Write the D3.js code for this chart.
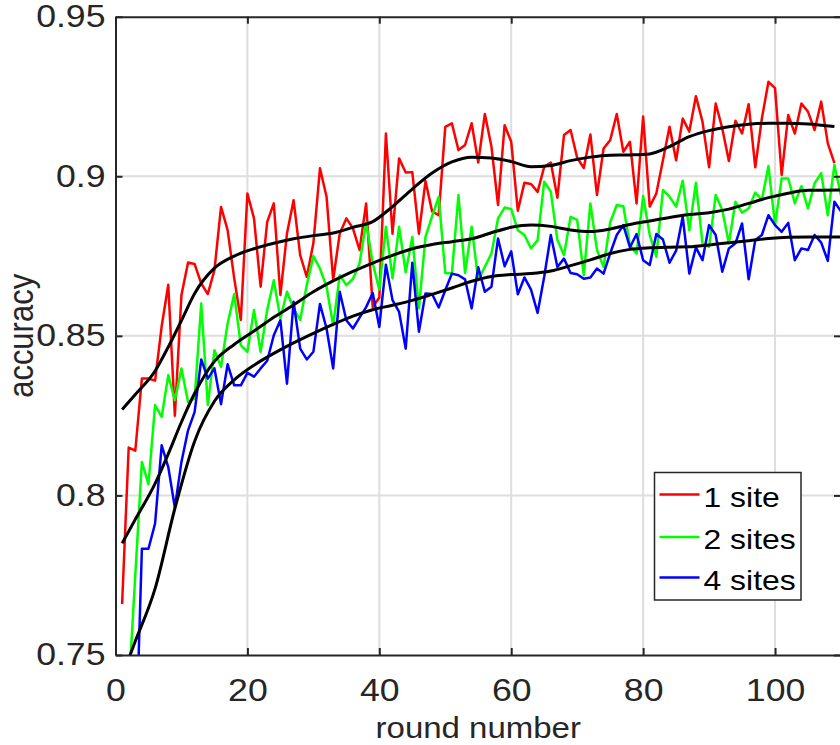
<!DOCTYPE html>
<html>
<head>
<meta charset="utf-8">
<script src="https://cdn.jsdelivr.net/npm/d3@7"></script>
<style>
  body { margin: 0; background: #ffffff; }
  svg { display: block; }
  text { font-family: "Liberation Sans", Arial, Helvetica, sans-serif; }
</style>
</head>
<body>
<svg id="chart" width="840" height="745"></svg>
<script>
// Axis ticks
const xTicks = [0, 20, 40, 60, 80, 100];
const yTicks = [0.75, 0.8, 0.85, 0.9, 0.95];
const yTickLabels = ["0.75", "0.8", "0.85", "0.9", "0.95"];

// Legend entries and line colours
const seriesNames = ["1 site", "2 sites", "4 sites"];
const seriesColors = ["#ff0000", "#00ff00", "#0000ff"];

// Per-round accuracy, round 1 onward
const acc1Site = [
  0.766, 0.815, 0.814, 0.8366, 0.8366, 0.836, 0.853, 0.866, 0.825, 0.8628,
  0.873, 0.8725, 0.8664, 0.8631, 0.8706, 0.8904, 0.8831, 0.868, 0.855, 0.8946,
  0.8868, 0.8654, 0.8857, 0.8915, 0.8628, 0.8821, 0.8925, 0.8753, 0.8685, 0.879,
  0.9025, 0.8936, 0.8675, 0.8821, 0.8868, 0.8837, 0.8769, 0.8915, 0.859, 0.862,
  0.9134, 0.882, 0.9056, 0.9012, 0.9013, 0.882, 0.8985, 0.889, 0.8878, 0.9155,
  0.9166, 0.9082, 0.9098, 0.9166, 0.9043, 0.9195, 0.9093, 0.891, 0.916, 0.9108,
  0.8892, 0.898, 0.8976, 0.8951, 0.903, 0.9043, 0.8933, 0.9129, 0.9145, 0.9058,
  0.9026, 0.9131, 0.8941, 0.9087, 0.9113, 0.9195, 0.9077, 0.9108, 0.8915, 0.9187,
  0.8905, 0.8946, 0.905, 0.9155, 0.905, 0.9181, 0.914, 0.9251, 0.9171, 0.9028,
  0.9228, 0.915, 0.9048, 0.9174, 0.9134, 0.9226, 0.9028, 0.9181, 0.9296, 0.9276,
  0.9004, 0.9192, 0.9134, 0.9228, 0.9202, 0.9145, 0.9234, 0.9103, 0.9041
];
const acc2Sites = [
  0.70, 0.739, 0.775, 0.8105, 0.8035, 0.8283, 0.8246, 0.8377, 0.8298, 0.8398,
  0.8293, 0.8304, 0.8601, 0.8283, 0.8455, 0.8403, 0.8539, 0.8631, 0.8471, 0.845,
  0.8581, 0.845, 0.8581, 0.8674, 0.8554, 0.8638, 0.8586, 0.855, 0.8659, 0.875,
  0.8711, 0.8654, 0.8533, 0.869, 0.8659, 0.8678, 0.8727, 0.8855, 0.8728, 0.8645,
  0.8842, 0.868, 0.8842, 0.8699, 0.881, 0.8586, 0.881, 0.8875, 0.8935, 0.8697,
  0.8695, 0.8941, 0.8697, 0.8842, 0.8675, 0.8716, 0.8758, 0.8868, 0.8902, 0.8897,
  0.8831, 0.8816, 0.8774, 0.88, 0.8983, 0.8952, 0.88, 0.8753, 0.8873, 0.8863,
  0.869, 0.8915, 0.8769, 0.8716, 0.8855, 0.891, 0.8906, 0.8784, 0.8758, 0.8938,
  0.8816, 0.8748, 0.8957, 0.8936, 0.8905, 0.8986, 0.8831, 0.898, 0.879, 0.8779,
  0.8941, 0.8894, 0.879, 0.892, 0.8886, 0.8899, 0.8949, 0.8926, 0.9032, 0.8847,
  0.8993, 0.8993, 0.8915, 0.8969, 0.8899, 0.8978, 0.901, 0.8878, 0.9035, 0.894
];
const acc4Sites = [
  0.69, 0.70, 0.715, 0.7833, 0.7833, 0.7912, 0.8157, 0.8089, 0.7962, 0.8105,
  0.8204, 0.8262, 0.8426, 0.8366, 0.8398, 0.8286, 0.8411, 0.8345, 0.8345, 0.8384,
  0.8372, 0.8398, 0.8422, 0.8502, 0.8549, 0.835, 0.8607, 0.846, 0.8426, 0.845,
  0.86, 0.8523, 0.8398, 0.8638, 0.8549, 0.8523, 0.8557, 0.859, 0.8634, 0.8528,
  0.8723, 0.8612, 0.8575, 0.846, 0.8729, 0.8513, 0.8633, 0.8631, 0.8589, 0.8643,
  0.8695, 0.869, 0.8677, 0.8586, 0.8715, 0.8638, 0.8654, 0.8805, 0.8718, 0.8765,
  0.863, 0.8683, 0.8645, 0.8572, 0.8685, 0.8816, 0.8716, 0.8742, 0.8697, 0.8693,
  0.8679, 0.8683, 0.8711, 0.8695, 0.8758, 0.8816, 0.8847, 0.8777, 0.8819, 0.8737,
  0.8722, 0.8819, 0.8802, 0.8729, 0.8767, 0.8873, 0.8695, 0.8777, 0.8737, 0.8847,
  0.8816, 0.8701, 0.8774, 0.879, 0.8852, 0.8677, 0.88, 0.8816, 0.8878, 0.8847,
  0.8826, 0.8854, 0.8737, 0.8774, 0.8769, 0.8816, 0.8792, 0.8735, 0.892, 0.889
];

// Smoothed trend curves (round, accuracy)
const trend1Rounds = [1, 3, 6, 8, 10, 12, 15, 18, 21, 24, 27, 30, 33, 36, 39, 42, 45, 48, 51, 54, 57, 60, 63, 66, 69, 72, 75, 78, 81, 84, 87, 90, 93, 96, 99, 102, 105, 109];
const trend1 = [0.8269, 0.8316, 0.8390, 0.8465, 0.8548, 0.8633, 0.8712, 0.8750, 0.8773, 0.8790, 0.8804, 0.8814, 0.8822, 0.8840, 0.8858, 0.8905, 0.8960, 0.9010, 0.9045, 0.9060, 0.9057, 0.9046, 0.9030, 0.9034, 0.9049, 0.9060, 0.9066, 0.9067, 0.9070, 0.9093, 0.9124, 0.9143, 0.9155, 0.9163, 0.9166, 0.9166, 0.9164, 0.9156];
const trend2Rounds = [1, 3, 6, 8, 10, 12, 15, 18, 21, 24, 27, 30, 33, 36, 39, 42, 45, 48, 51, 54, 57, 60, 63, 66, 69, 72, 75, 78, 81, 84, 87, 90, 93, 96, 99, 102, 105, 110];
const trend2 = [0.785, 0.7925, 0.8037, 0.8130, 0.8230, 0.8320, 0.8420, 0.8473, 0.8515, 0.8558, 0.8597, 0.8638, 0.8672, 0.8702, 0.8728, 0.8752, 0.8773, 0.8786, 0.8795, 0.8804, 0.8823, 0.8840, 0.8847, 0.8843, 0.8832, 0.8827, 0.8835, 0.8849, 0.8860, 0.8871, 0.8880, 0.8886, 0.8897, 0.8915, 0.8933, 0.8947, 0.8956, 0.8957];
const trend4Rounds = [1, 3, 6, 9, 12, 15, 18, 21, 24, 27, 30, 33, 36, 39, 42, 45, 48, 51, 54, 57, 60, 63, 66, 69, 72, 75, 78, 81, 84, 87, 90, 93, 96, 99, 102, 105, 110];
const trend4 = [0.7434, 0.7543, 0.7708, 0.7959, 0.8170, 0.8295, 0.8362, 0.8408, 0.8445, 0.8478, 0.8508, 0.8536, 0.8562, 0.8582, 0.8596, 0.8611, 0.8630, 0.8650, 0.8671, 0.8686, 0.8692, 0.8695, 0.8703, 0.8720, 0.8738, 0.8758, 0.8771, 0.8776, 0.8778, 0.8779, 0.8785, 0.8792, 0.8798, 0.8805, 0.8809, 0.8810, 0.8810];

const plot = { left: 115.5, right: 841, top: 16.7, bottom: 655 };
const axisColor = "#262626";
const gridColor = "#dedede";
const TICK_FONT = 31;
const LABEL_FONT = 30;
const SX = 1.15; // horizontal text stretch

const svg = d3.select("#chart");

const x = d3.scaleLinear().domain([0, 110]).range([plot.left, plot.right]);
const y = d3.scaleLinear().domain([0.75, 0.95]).range([plot.bottom, plot.top]);

// grid
const grid = svg.append("g");
grid.selectAll("line.gx").data(xTicks.filter(d => d > 0)).join("line")
  .attr("x1", d => x(d)).attr("x2", d => x(d))
  .attr("y1", plot.top).attr("y2", plot.bottom)
  .attr("stroke", gridColor).attr("stroke-width", 2);
grid.selectAll("line.gy").data(yTicks.filter(d => d > 0.75 && d < 0.95)).join("line")
  .attr("x1", plot.left).attr("x2", plot.right)
  .attr("y1", d => y(d)).attr("y2", d => y(d))
  .attr("stroke", gridColor).attr("stroke-width", 2);

// clip to axes box
svg.append("defs").append("clipPath").attr("id", "plotClip")
  .append("rect")
  .attr("x", plot.left).attr("y", plot.top)
  .attr("width", plot.right - plot.left).attr("height", plot.bottom - plot.top);

const dataLayer = svg.append("g").attr("clip-path", "url(#plotClip)");

const rawLine = d3.line().x(d => x(d[0])).y(d => y(d[1]));
const trendLine = d3.line().x(d => x(d[0])).y(d => y(d[1])).curve(d3.curveMonotoneX);

const series = [acc1Site, acc2Sites, acc4Sites];
series.forEach((vals, i) => {
  dataLayer.append("path")
    .datum(vals.map((v, k) => [k + 1, v]))
    .attr("d", rawLine)
    .attr("fill", "none")
    .attr("stroke", seriesColors[i])
    .attr("stroke-width", 2.5)
    .attr("stroke-linejoin", "round");
});

const trends = [[trend1Rounds, trend1], [trend2Rounds, trend2], [trend4Rounds, trend4]];
trends.forEach(([rs, vs]) => {
  dataLayer.append("path")
    .datum(rs.map((r, k) => [r, vs[k]]))
    .attr("d", trendLine)
    .attr("fill", "none")
    .attr("stroke", "#000000")
    .attr("stroke-width", 3);
});

// axes
function styleAxis(g) {
  g.select(".domain").attr("stroke", axisColor).attr("stroke-width", 2);
  g.selectAll(".tick line").attr("stroke", axisColor).attr("stroke-width", 2);
  g.selectAll(".tick text")
    .attr("fill", axisColor)
    .style("font-size", TICK_FONT + "px")
    .style("font-family", '"Liberation Sans", Arial, sans-serif');
}

const xAxisBottom = svg.append("g")
  .attr("transform", `translate(0,${plot.bottom})`)
  .call(d3.axisBottom(x).tickValues(xTicks).tickFormat(d3.format("d"))
    .tickSize(-7).tickSizeOuter(0).tickPadding(24));
styleAxis(xAxisBottom);
xAxisBottom.selectAll(".tick text").attr("transform", `scale(${SX},1)`);

const xAxisTop = svg.append("g")
  .attr("transform", `translate(0,${plot.top})`)
  .call(d3.axisTop(x).tickValues(xTicks).tickFormat("").tickSize(-7).tickSizeOuter(0));
styleAxis(xAxisTop);

const yAxisLeft = svg.append("g")
  .attr("transform", `translate(${plot.left},0)`)
  .call(d3.axisLeft(y).tickValues(yTicks).tickFormat((d, i) => yTickLabels[i])
    .tickSize(-7).tickSizeOuter(0).tickPadding(10));
styleAxis(yAxisLeft);
yAxisLeft.selectAll(".tick text")
  .attr("x", -10 / SX)
  .attr("transform", `scale(${SX},1)`);

const yAxisRight = svg.append("g")
  .attr("transform", `translate(${plot.right},0)`)
  .call(d3.axisRight(y).tickValues(yTicks).tickFormat("").tickSize(-7).tickSizeOuter(0));
styleAxis(yAxisRight);

// axis titles
svg.append("text")
  .attr("transform", `translate(${(plot.left + plot.right) / 2},738) scale(1.1,1)`)
  .attr("text-anchor", "middle")
  .attr("fill", axisColor)
  .style("font-size", LABEL_FONT + "px")
  .text("round number");

svg.append("text")
  .attr("transform", `translate(33,${(plot.top + plot.bottom) / 2}) scale(${SX},1) rotate(-90)`)
  .attr("text-anchor", "middle")
  .attr("fill", axisColor)
  .style("font-size", "31px")
  .text("accuracy");

// legend
const legend = svg.append("g").attr("transform", "translate(654.5,472.5)");
legend.append("rect")
  .attr("width", 146.5).attr("height", 127.5)
  .attr("fill", "#ffffff")
  .attr("stroke", axisColor).attr("stroke-width", 1.5);
const rowY = [22, 64.5, 105];
seriesNames.forEach((name, i) => {
  legend.append("line")
    .attr("x1", 5).attr("x2", 45)
    .attr("y1", rowY[i]).attr("y2", rowY[i])
    .attr("stroke", seriesColors[i]).attr("stroke-width", 2.5);
  legend.append("text")
    .attr("transform", `translate(49,${rowY[i] + 12}) scale(1.12,1)`)
    .attr("fill", "#000000")
    .style("font-size", "28.5px")
    .text(name);
});
</script>
</body>
</html>
